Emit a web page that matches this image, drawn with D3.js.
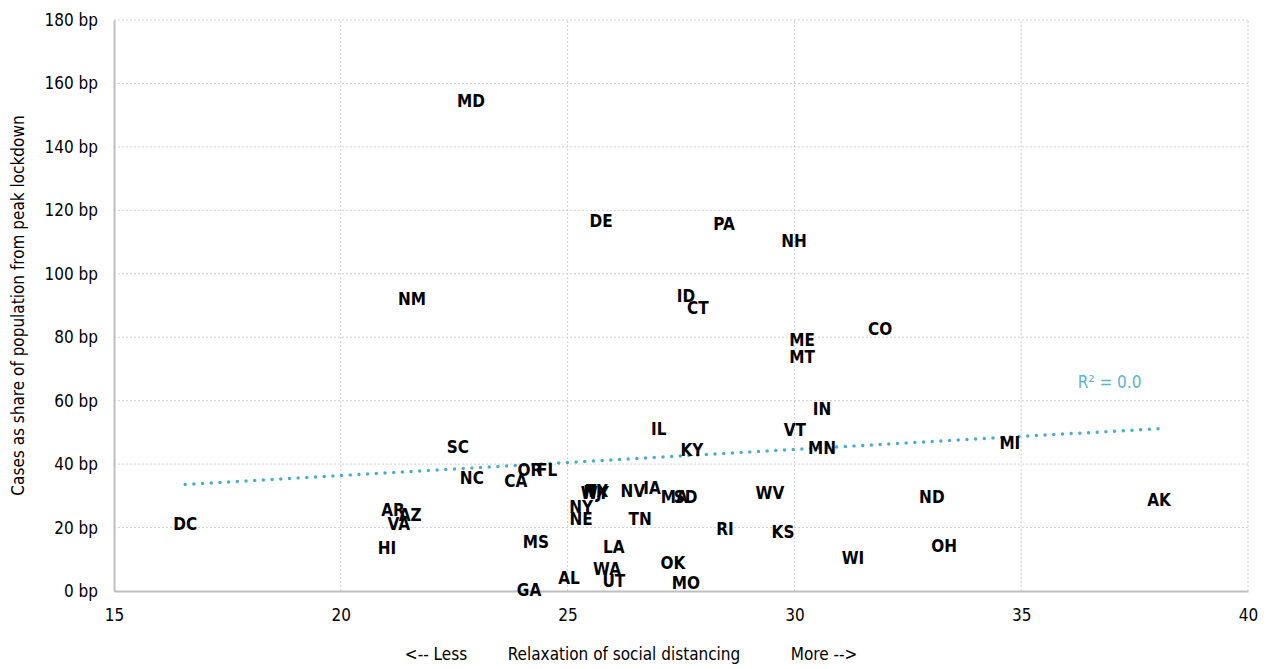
<html>
<head>
  <title>Cases vs relaxation of social distancing</title>
  <script src="https://cdnjs.cloudflare.com/ajax/libs/d3/7.8.5/d3.min.js"></script>
  <style>
    body { margin: 0; background: #fff; }
    text { font-family: "DejaVu Sans Condensed", "DejaVu Sans", sans-serif; font-stretch: condensed; }
  </style>
</head>
<body>
<script>
  // state labels, relaxation score (x), cases in bp (y)
  var states = ["MD","DE","PA","NH","NM","ID","CT","CO","ME","MT","IN","IL","VT","MI","MN","KY",
                "SC","NC","OR","FL","CA","DC","AR","AZ","VA","HI","MS","GA","AL","NY","NE",
                "NJ","TX","WY","NV","IA","MA","SD","TN","LA","WA","UT","OK","MO","RI","WV",
                "KS","WI","ND","OH","AK"];
  var relaxation = [22.87,25.74,28.45,29.99,21.57,27.61,27.87,31.89,30.17,30.17,30.61,27.01,30.01,34.75,30.61,27.74,
                    22.58,22.89,24.17,24.55,23.86,16.57,21.15,21.53,21.28,21.02,24.30,24.15,25.03,25.30,25.30,
                    25.55,25.65,25.6,26.44,26.86,27.35,27.6,26.6,26.02,25.87,26.02,27.32,27.61,28.47,29.46,
                    29.75,31.29,33.03,33.30,38.04];
  var cases = [154.2,116.3,115.4,110.0,91.7,92.7,88.9,82.3,78.8,73.5,57.1,50.8,50.4,46.3,44.8,44.1,
               45.1,35.3,37.8,37.8,34.4,20.8,25.2,23.6,20.8,13.2,15.1,0.0,3.8,26.2,22.4,
               31.0,31.3,30.6,31.2,32.2,29.2,29.2,22.4,13.6,6.6,2.8,8.5,2.2,19.2,30.6,
               18.3,10.1,29.3,13.9,28.4];

  // fitted trend line endpoints
  var trendX = [16.57, 38.04];
  var trendY = [33.6, 51.2];

  var xTicks = [15, 20, 25, 30, 35, 40];
  var yTicks = [0, 20, 40, 60, 80, 100, 120, 140, 160, 180];

  var width = 1272, height = 669;
  var margin = { left: 114, right: 24, top: 20, bottom: 78 };

  var svg = d3.select("body").append("svg")
    .attr("width", width)
    .attr("height", height);

  var x = d3.scaleLinear().domain([15, 40]).range([margin.left, width - margin.right]);
  var y = d3.scaleLinear().domain([0, 180]).range([height - margin.bottom, margin.top]);

  // gridlines
  svg.append("g").selectAll("line")
    .data(yTicks.slice(1))
    .enter().append("line")
    .attr("x1", x(15)).attr("x2", x(40))
    .attr("y1", function (d) { return y(d); })
    .attr("y2", function (d) { return y(d); })
    .attr("stroke", "#d0d0d0")
    .attr("stroke-dasharray", "2,2");

  svg.append("g").selectAll("line")
    .data(xTicks.slice(1))
    .enter().append("line")
    .attr("y1", y(0)).attr("y2", y(180))
    .attr("x1", function (d) { return x(d); })
    .attr("x2", function (d) { return x(d); })
    .attr("stroke", "#d0d0d0")
    .attr("stroke-dasharray", "2,2");

  // axes
  var xAxis = svg.append("g")
    .attr("transform", "translate(0," + y(0) + ")")
    .call(d3.axisBottom(x).tickValues(xTicks).tickSize(0).tickPadding(18));
  var yAxis = svg.append("g")
    .attr("transform", "translate(" + x(15) + ",0)")
    .call(d3.axisLeft(y).tickValues(yTicks).tickSize(0).tickPadding(16)
      .tickFormat(function (d) { return d + " bp"; }));

  [xAxis, yAxis].forEach(function (a) {
    a.select(".domain").attr("stroke", "#bfbfbf").attr("stroke-width", 2);
    a.selectAll("text")
      .style("font-family", "'DejaVu Sans Condensed', 'DejaVu Sans', sans-serif")
      .style("font-stretch", "condensed")
      .style("font-size", "17px")
      .attr("fill", "#000");
  });

  // trend line
  svg.append("line")
    .attr("x1", x(trendX[0])).attr("y1", y(trendY[0]))
    .attr("x2", x(trendX[1])).attr("y2", y(trendY[1]))
    .attr("stroke", "#4bacc6")
    .attr("stroke-width", 3.5)
    .attr("stroke-linecap", "round")
    .attr("stroke-dasharray", "0,8.7");

  svg.append("text")
    .attr("x", x(36.95)).attr("y", y(65.5))
    .attr("text-anchor", "middle")
    .attr("dominant-baseline", "middle")
    .attr("fill", "#5bb5cc")
    .style("font-size", "17px")
    .text("R\u00b2 = 0.0");

  // state labels
  svg.append("g").selectAll("text")
    .data(states)
    .enter().append("text")
    .attr("x", function (d, i) { return x(relaxation[i]); })
    .attr("y", function (d, i) { return y(cases[i]); })
    .attr("text-anchor", "middle")
    .attr("dominant-baseline", "middle")
    .style("font-size", "17px")
    .style("font-weight", "bold")
    .attr("fill", "#000")
    .text(function (d) { return d; });

  // axis titles
  svg.append("text")
    .attr("transform", "translate(19," + ((y(0) + y(180)) / 2) + ") rotate(-90)")
    .attr("text-anchor", "middle")
    .attr("dominant-baseline", "middle")
    .style("font-size", "17px")
    .text("Cases as share of population from peak lockdown");

  var xTitles = [["<-- Less", 436], ["Relaxation of social distancing", 624], ["More -->", 824]];
  svg.append("g").selectAll("text")
    .data(xTitles)
    .enter().append("text")
    .attr("x", function (d) { return d[1]; })
    .attr("y", 655)
    .attr("text-anchor", "middle")
    .attr("dominant-baseline", "middle")
    .style("font-size", "17px")
    .text(function (d) { return d[0]; });
</script>
</body>
</html>
